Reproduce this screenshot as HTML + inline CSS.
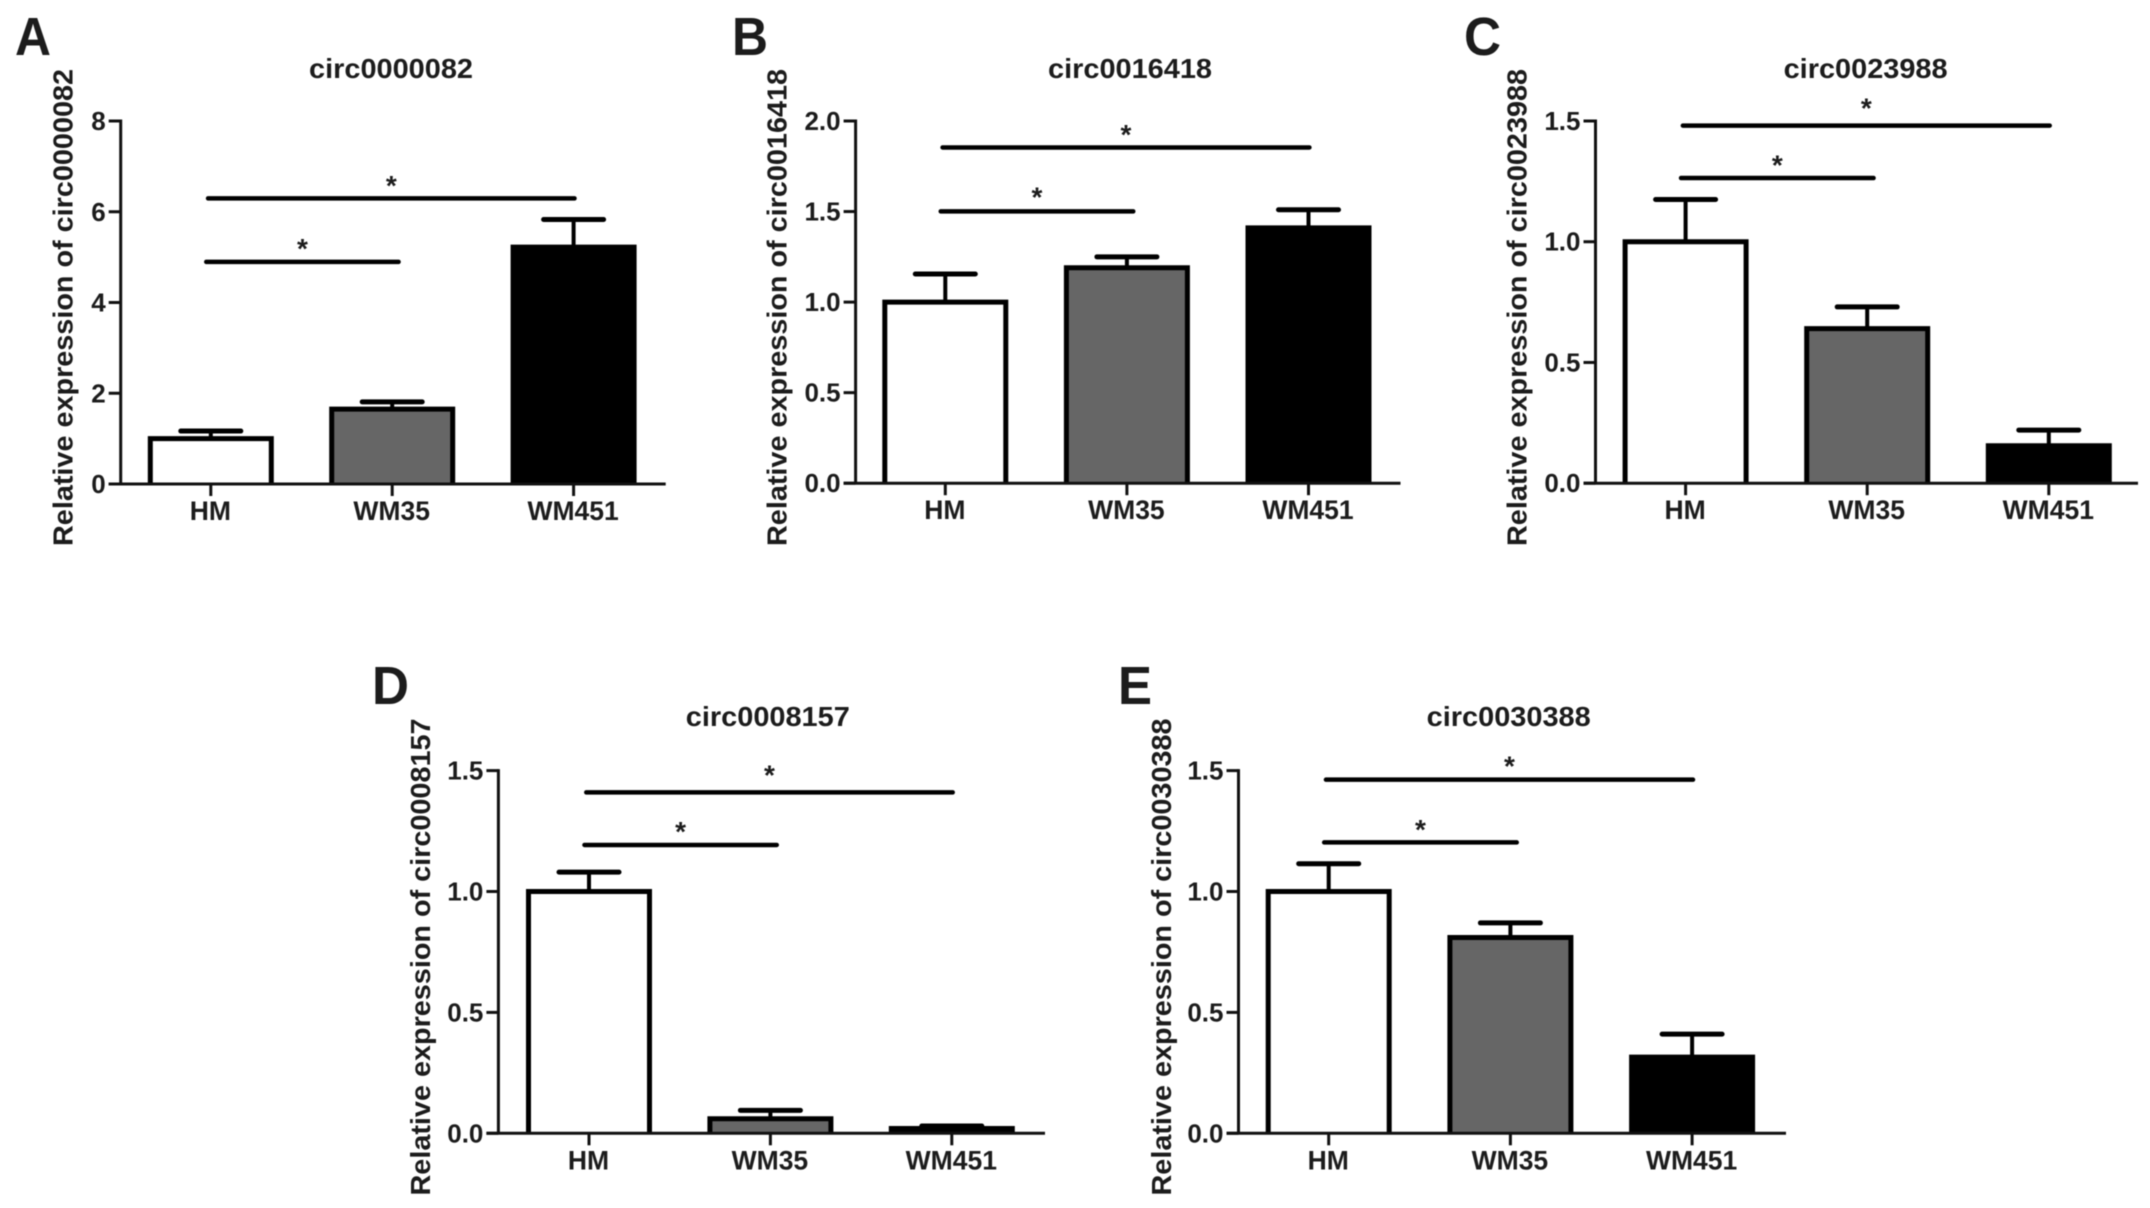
<!DOCTYPE html>
<html lang="en">
<head>
<meta charset="utf-8">
<title>Relative circRNA expression</title>
<style>
html,body{margin:0;padding:0;background:#fff;width:2150px;height:1208px;overflow:hidden}
svg{display:block;filter:blur(0.6px)}
text{font-family:"Liberation Sans",sans-serif;font-weight:bold;fill:#1c1c1c}
</style>
</head>
<body>
<svg id="figure" xmlns="http://www.w3.org/2000/svg" width="2150" height="1208" viewBox="0 0 2150 1208"></svg>
<script>
const categories = ['HM', 'WM35', 'WM451'];

const valuesA = [1.0, 1.65, 5.22];
const errorTopsA = [1.167, 1.81, 5.83];
const tickLabelsA = ['0', '2', '4', '6', '8'];
const tickValuesA = [0, 2, 4, 6, 8];
const sigLevelsA = [6.295, 4.895];
const starLevelsA = [6.66, 5.27];

const valuesB = [1.0, 1.19, 1.41];
const errorTopsB = [1.155, 1.25, 1.51];
const tickLabelsB = ['0.0', '0.5', '1.0', '1.5', '2.0'];
const tickValuesB = [0, 0.5, 1, 1.5, 2];
const sigLevelsB = [1.854, 1.501];
const starLevelsB = [1.945, 1.6];

const valuesC = [1.0, 0.64, 0.155];
const errorTopsC = [1.175, 0.73, 0.22];
const tickLabelsC = ['0.0', '0.5', '1.0', '1.5'];
const tickValuesC = [0, 0.5, 1, 1.5];
const sigLevelsC = [1.481, 1.264];
const starLevelsC = [1.568, 1.332];

const valuesD = [1.0, 0.06, 0.02];
const errorTopsD = [1.08, 0.095, 0.03];
const tickLabelsD = ['0.0', '0.5', '1.0', '1.5'];
const tickValuesD = [0, 0.5, 1, 1.5];
const sigLevelsD = [1.41, 1.1925];
const starLevelsD = [1.497, 1.263];

const valuesE = [1.0, 0.81, 0.315];
const errorTopsE = [1.115, 0.87, 0.41];
const tickLabelsE = ['0.0', '0.5', '1.0', '1.5'];
const tickValuesE = [0, 0.5, 1, 1.5];
const sigLevelsE = [1.4625, 1.203];
const starLevelsE = [1.533, 1.271];

const svg = document.getElementById('figure');
const NS = 'http://www.w3.org/2000/svg';

function make(parent, tag, attrs, content) {
  const node = document.createElementNS(NS, tag);
  for (const k in attrs) node.setAttribute(k, attrs[k]);
  if (content !== undefined) node.textContent = content;
  parent.appendChild(node);
  return node;
}

function fillFor(i) {
  if (i === 0) return '#ffffff';
  if (i === 1) return '#666666';
  return '#000000';
}

function drawPanel(p) {
  const group = make(svg, 'g', {});
  
  

  const yMax = p.tickValues[p.tickValues.length - 1];
  const yScale = v => p.zeroY - (v / yMax) * (p.zeroY - p.topY);
  const xScale = i => p.firstX + i * p.step;

  const letter = make(group, 'text', {x: p.letterX, y: p.letterY, 'font-size': 54, textLength: p.letterW, lengthAdjust: 'spacingAndGlyphs'}, p.letter);
  
  

  const title = make(group, 'text', {x: p.titleX, y: p.titleY, 'font-size': 28, 'text-anchor': 'middle', textLength: 164, lengthAdjust: 'spacingAndGlyphs'}, p.title);
  
  

  const yTitle = make(group, 'text', {transform: 'translate(' + p.yTitleX + ',' + p.yTitleY + ') rotate(-90)', 'font-size': 27.5, 'text-anchor': 'middle', textLength: 477, lengthAdjust: 'spacingAndGlyphs'}, p.yTitle);
  
  

  // error bars sit behind the bars
  p.values.forEach((v, i) => {
    const cx = xScale(i);
    const stem = make(group, 'line', {x1: cx, x2: cx, y1: yScale(v), y2: yScale(p.errorTops[i]), stroke: '#000', 'stroke-width': 4});
    
    
    const cap = make(group, 'line', {x1: cx - 30, x2: cx + 30, y1: yScale(p.errorTops[i]), y2: yScale(p.errorTops[i]), stroke: '#000', 'stroke-width': 5, 'stroke-linecap': 'round'});
    
    
  });

  // bars are open at the bottom so they sit on the thinner x axis
  p.values.forEach((v, i) => {
    const cx = xScale(i);
    const top = yScale(v);
    const d = 'M' + (cx - 60.5) + ' ' + p.zeroY + 'V' + top + 'H' + (cx + 60.5) + 'V' + p.zeroY;
    const bar = make(group, 'path', {d: d, fill: fillFor(i), stroke: '#000', 'stroke-width': 5, 'stroke-linejoin': 'miter'});
    
    
  });

  const yAxis = make(group, 'line', {x1: p.axisX, x2: p.axisX, y1: p.topY - 1.5, y2: p.zeroY, stroke: '#111', 'stroke-width': 3});
  
  

  const xAxis = make(group, 'line', {x1: p.axisX - 12, x2: p.axisEnd, y1: p.zeroY, y2: p.zeroY, stroke: '#111', 'stroke-width': 3});
  
  

  p.tickValues.forEach((t, i) => {
    const tick = make(group, 'line', {x1: p.axisX - 12, x2: p.axisX, y1: yScale(t), y2: yScale(t), stroke: '#111', 'stroke-width': 3});
    
    
    const label = make(group, 'text', {x: p.axisX - 15, y: yScale(t) + 9, 'font-size': 26, 'text-anchor': 'end'}, p.tickLabels[i]);
    
    
  });

  categories.forEach((c, i) => {
    const cx = xScale(i);
    const tick = make(group, 'line', {x1: cx, x2: cx, y1: p.zeroY, y2: p.zeroY + 12, stroke: '#111', 'stroke-width': 3});
    
    
    const label = make(group, 'text', {x: cx - 0.5, y: p.zeroY + 36, 'font-size': 26.5, 'text-anchor': 'middle'}, c);
    
    
  });

  // long comparison (HM to WM451), then short comparison (HM to WM35)
  const spans = [[-0.015, 2.005], [-0.025, 1.035]];
  spans.forEach((s, i) => {
    const x1 = xScale(s[0]);
    const x2 = xScale(s[1]);
    const y = yScale(p.sigLevels[i]);
    const line = make(group, 'line', {x1: x1, x2: x2, y1: y, y2: y, stroke: '#000', 'stroke-width': 4.5, 'stroke-linecap': 'round'});
    
    
    const star = make(group, 'text', {x: (x1 + x2) / 2, y: yScale(p.starLevels[i]) + 13, 'font-size': 28, 'text-anchor': 'middle'}, '*');
    
    
  });
}

drawPanel({letter: 'A', letterX: 15, letterY: 55, letterW: 36,
  title: 'circ0000082', titleX: 391, titleY: 78,
  yTitle: 'Relative expression of circ0000082', yTitleX: 72.5, yTitleY: 307.5,
  axisX: 120.7, axisEnd: 665.7, topY: 121, zeroY: 484, firstX: 210.8, step: 181.4,
  values: valuesA, errorTops: errorTopsA, tickValues: tickValuesA, tickLabels: tickLabelsA,
  sigLevels: sigLevelsA, starLevels: starLevelsA});

drawPanel({letter: 'B', letterX: 732, letterY: 55, letterW: 36,
  title: 'circ0016418', titleX: 1130, titleY: 78,
  yTitle: 'Relative expression of circ0016418', yTitleX: 786.5, yTitleY: 307.5,
  axisX: 855.6, axisEnd: 1400.5, topY: 121, zeroY: 483.2, firstX: 945.3, step: 181.6,
  values: valuesB, errorTops: errorTopsB, tickValues: tickValuesB, tickLabels: tickLabelsB,
  sigLevels: sigLevelsB, starLevels: starLevelsB});

drawPanel({letter: 'C', letterX: 1464, letterY: 55, letterW: 37,
  title: 'circ0023988', titleX: 1865.6, titleY: 78,
  yTitle: 'Relative expression of circ0023988', yTitleX: 1526.5, yTitleY: 307.5,
  axisX: 1595.5, axisEnd: 2138, topY: 121, zeroY: 483.2, firstX: 1685.6, step: 181.6,
  values: valuesC, errorTops: errorTopsC, tickValues: tickValuesC, tickLabels: tickLabelsC,
  sigLevels: sigLevelsC, starLevels: starLevelsC});

drawPanel({letter: 'D', letterX: 372, letterY: 704, letterW: 37,
  title: 'circ0008157', titleX: 767.8, titleY: 726,
  yTitle: 'Relative expression of circ0008157', yTitleX: 430, yTitleY: 957,
  axisX: 498.4, axisEnd: 1045, topY: 770.6, zeroY: 1133.3, firstX: 589, step: 181.4,
  values: valuesD, errorTops: errorTopsD, tickValues: tickValuesD, tickLabels: tickLabelsD,
  sigLevels: sigLevelsD, starLevels: starLevelsD});

drawPanel({letter: 'E', letterX: 1118, letterY: 704, letterW: 34,
  title: 'circ0030388', titleX: 1508.7, titleY: 726,
  yTitle: 'Relative expression of circ0030388', yTitleX: 1171, yTitleY: 957,
  axisX: 1238.5, axisEnd: 1786, topY: 770.6, zeroY: 1133.3, firstX: 1328.7, step: 181.7,
  values: valuesE, errorTops: errorTopsE, tickValues: tickValuesE, tickLabels: tickLabelsE,
  sigLevels: sigLevelsE, starLevels: starLevelsE});
</script>
</body>
</html>
